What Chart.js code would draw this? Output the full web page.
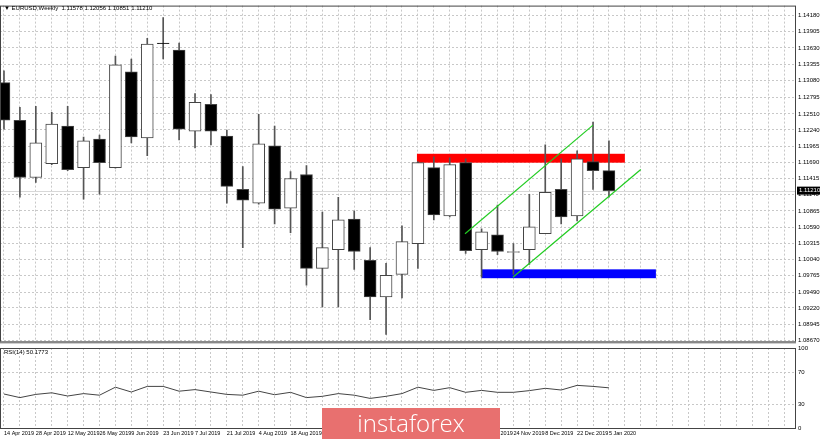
<!DOCTYPE html>
<html>
<head>
<meta charset="utf-8">
<script src="https://cdn.jsdelivr.net/npm/chart.js@4.4.0/dist/chart.umd.min.js"></script>
<style>
    html, body { margin: 0; padding: 0; background: #fff; }
    #wrap { position: relative; width: 820px; height: 439px; overflow: hidden; font-family: "Liberation Sans", Arial, sans-serif; }
    #mainBox { position: absolute; left: 0; top: 0; width: 820px; height: 347px; }
    #rsiBox { position: absolute; left: 0; top: 340px; width: 820px; height: 99px; }
    #logo { position: absolute; left: 322px; top: 408px; width: 178px; height: 31px; background: #e8706f;
            color: #fff; font: 300 24px "Open Sans", sans-serif; text-align: center; line-height: 30px; }
</style>
</head>
<body>
<div id="wrap">
    <div id="mainBox"><canvas id="mainChart"></canvas></div>
    <div id="rsiBox"><canvas id="rsiChart"></canvas></div>
    <div id="logo">instaforex</div>
</div>
<script>
/* Weekly EURUSD candles, 14 Apr 2019 .. 5 Jan 2020 */
const opens  = [1.13041, 1.12404, 1.11433, 1.11667, 1.12304, 1.11600, 1.12086, 1.11600, 1.13225, 1.12103,
                1.13711, 1.13594, 1.12220, 1.12672, 1.12136, 1.11232, 1.10997, 1.11969, 1.10914, 1.11483,
                1.09892, 1.10210, 1.10729, 1.10026, 1.09406, 1.09791, 1.10311, 1.11600, 1.10780, 1.11684,
                1.10210, 1.10461, 1.10160, 1.10210, 1.10478, 1.11232, 1.10780, 1.11701, 1.11550];
const highs  = [1.13242, 1.12622, 1.12639, 1.12538, 1.12639, 1.12120, 1.12153, 1.13493, 1.13443, 1.13795,
                1.14146, 1.13711, 1.12857, 1.12840, 1.12237, 1.11617, 1.12505, 1.12304, 1.11533, 1.11634,
                1.10847, 1.11098, 1.10863, 1.10244, 1.09976, 1.10612, 1.11701, 1.11785, 1.11768, 1.11751,
                1.10562, 1.10964, 1.10311, 1.11148, 1.11986, 1.11751, 1.11885, 1.12371, 1.12053];
const lows   = [1.12254, 1.11098, 1.11349, 1.11650, 1.11550, 1.11064, 1.11148, 1.11590, 1.12019, 1.11801,
                1.13443, 1.12069, 1.11935, 1.11986, 1.10997, 1.10244, 1.10980, 1.10646, 1.10495, 1.09607,
                1.09239, 1.09239, 1.09875, 1.09021, 1.08770, 1.09390, 1.09892, 1.10713, 1.10763, 1.10143,
                1.09741, 1.10126, 1.09791, 1.09959, 1.10478, 1.10646, 1.10696, 1.11232, 1.11098];
const closes = [1.12404, 1.11433, 1.12019, 1.12337, 1.11567, 1.12053, 1.11684, 1.13342, 1.12120, 1.13694,
                1.13703, 1.12254, 1.12706, 1.12220, 1.11282, 1.11048, 1.12002, 1.10897, 1.11416, 1.09892,
                1.10244, 1.10713, 1.10177, 1.09406, 1.09775, 1.10344, 1.11684, 1.10796, 1.11651, 1.10193,
                1.10512, 1.10177, 1.10177, 1.10595, 1.11182, 1.10763, 1.11751, 1.11550, 1.11210];
const rsiValues = [42.5, 38, 42, 44, 40, 43, 41, 51, 45, 52,
                   52, 46, 48, 45, 42, 41, 46, 41.6, 44.6, 38,
                   39.6, 43, 41, 37, 39.6, 43, 51, 47, 50.4, 44.6,
                   47, 44.6, 44.6, 46.7, 49.6, 47.5, 53.3, 52, 50.2];
const priceTicks = [1.14180, 1.13905, 1.13630, 1.13355, 1.13080, 1.12795, 1.12510, 1.12240, 1.11965, 1.11690,
                    1.11415, 1.11140, 1.10865, 1.10590, 1.10315, 1.10040, 1.09765, 1.09490, 1.09220, 1.08945, 1.08670];
const dateLabels = ["14 Apr 2019", "28 Apr 2019", "12 May 2019", "26 May 2019", "9 Jun 2019", "23 Jun 2019",
                    "7 Jul 2019", "21 Jul 2019", "4 Aug 2019", "18 Aug 2019", "1 Sep 2019", "15 Sep 2019",
                    "29 Sep 2019", "13 Oct 2019", "27 Oct 2019", "10 Nov 2019", "24 Nov 2019", "8 Dec 2019",
                    "22 Dec 2019", "5 Jan 2020"];
const rsiTicks = [100, 70, 30, 0];
const lastPrice = 1.11210;
/* analyst drawings, in bar index / price units */
const upperChannel = [[28.96, 1.10478], [37.0, 1.12321]];
const lowerChannel = [[31.97, 1.09741], [40.0, 1.11567]];
const resistanceZone = [25.94, 39.0, 1.11835, 1.11684];
const supportZone = [30.0, 40.95, 1.09875, 1.09725];

const FONT = { family: "Liberation Sans, Arial, sans-serif", size: 6 };
const GRID = "#c8c8c8";
const idx = opens.map((_, i) => i);
const gridIdx = Array.from({ length: 50 }, (_, i) => i);

const frame = {
    id: "frame",
    beforeDatasetsDraw(chart) {
        const { ctx, chartArea: a, scales } = chart;
        ctx.save();
        if (chart.canvas.id === "mainChart") {
            const x = scales.x, y = scales.y;
            const box = (z, color) => {
                ctx.fillStyle = color;
                const x0 = x.getPixelForValue(z[0]), x1 = x.getPixelForValue(z[1]);
                const y0 = y.getPixelForValue(z[2]), y1 = y.getPixelForValue(z[3]);
                ctx.fillRect(x0, y0, x1 - x0, y1 - y0);
            };
            box(resistanceZone, "#ff0000");
            box(supportZone, "#0000ff");
            const ly = Math.round(y.getPixelForValue(lastPrice)) + 0.5;
            ctx.strokeStyle = "#d8d8d8";
            ctx.lineWidth = 1;
            ctx.beginPath(); ctx.moveTo(a.left, ly); ctx.lineTo(a.right, ly); ctx.stroke();
        }
        ctx.restore();
    },
    afterDraw(chart) {
        const { ctx, chartArea: a, scales } = chart;
        ctx.save();
        ctx.strokeStyle = "#444";
        ctx.lineWidth = 1;
        ctx.strokeRect(a.left + 0.5, a.top + 0.5, a.right - a.left - 1, a.bottom - a.top);
        ctx.font = "6px Liberation Sans, Arial, sans-serif";
        ctx.textBaseline = "middle";
        if (chart.canvas.id === "mainChart") {
            ctx.fillStyle = "#000";
            ctx.fillText("\u25BC EURUSD,Weekly  1.11578 1.12056 1.10851 1.11210", 4, 8);
            const ly = scales.y.getPixelForValue(lastPrice);
            ctx.fillStyle = "#000";
            ctx.fillRect(a.right + 1, ly - 4, 23, 8);
            ctx.fillStyle = "#fff";
            ctx.fillText(lastPrice.toFixed(5), a.right + 3, ly);
            ctx.fillStyle = "#888";
            ctx.fillRect(a.left, a.bottom, a.right - a.left, 2);
        } else {
            ctx.fillStyle = "#000";
            ctx.fillText("RSI(14) 50.1773", 4, a.top + 4);
        }
        ctx.restore();
    },
};

function axisX(showLabels) {
    return {
        type: "linear", min: -0.25, max: 49.75, offset: false,
        afterBuildTicks: s => { s.ticks = gridIdx.map(v => ({ value: v })); },
        afterFit: s => { s.height = showLabels ? 11 : 0; },
        grid: { color: GRID, drawTicks: false, offset: false },
        border: { display: false, dash: [2, 2] },
        ticks: {
            display: showLabels, font: { family: FONT.family, size: 5.5 }, color: "#000", padding: 2,
            maxRotation: 0, autoSkip: false, align: "start",
            callback: v => (v % 2 === 0 && v / 2 < dateLabels.length) ? dateLabels[v / 2] : "",
        },
    };
}

new Chart(document.getElementById("mainChart"), {
    type: "bar",
    data: {
        datasets: [
            {
                data: idx.map(i => ({ x: i, y: [lows[i], highs[i]] })),
                backgroundColor: "#555", barThickness: 1, grouped: false, order: 3,
            },
            {
                data: idx.map(i => ({ x: i, y: [opens[i], closes[i]] })),
                backgroundColor: idx.map(i => closes[i] >= opens[i] ? "#fff" : "#000"),
                borderColor: "#444", borderWidth: 1, borderSkipped: false,
                barThickness: 12, grouped: false, order: 2,
            },
            {
                type: "line", data: upperChannel.map(p => ({ x: p[0], y: p[1] })),
                borderColor: "#22cc22", borderWidth: 1.2, pointRadius: 0, order: 1,
            },
            {
                type: "line", data: lowerChannel.map(p => ({ x: p[0], y: p[1] })),
                borderColor: "#22cc22", borderWidth: 1.2, pointRadius: 0, order: 1,
            },
        ],
    },
    options: {
        responsive: true, maintainAspectRatio: false, animation: false,
        layout: { padding: { top: 5, right: 0, bottom: 2, left: 0 } },
        plugins: { legend: { display: false }, tooltip: { enabled: false } },
        scales: {
            x: axisX(false),
            y: {
                position: "right", min: 1.08653, max: 1.14348,
                afterBuildTicks: s => { s.ticks = priceTicks.map(v => ({ value: v })); },
                afterFit: s => { s.width = 24; },
                grid: { color: GRID, drawTicks: false },
                border: { display: false, dash: [2, 2] },
                ticks: { font: FONT, color: "#000", padding: 2, callback: v => v.toFixed(5) },
            },
        },
    },
    plugins: [frame],
});

new Chart(document.getElementById("rsiChart"), {
    type: "line",
    data: {
        datasets: [{
            data: idx.map(i => ({ x: i, y: rsiValues[i] })),
            borderColor: "#444", borderWidth: 1, pointRadius: 0, tension: 0,
        }],
    },
    options: {
        responsive: true, maintainAspectRatio: false, animation: false,
        layout: { padding: { top: 8, right: 0, bottom: 0, left: 0 } },
        plugins: { legend: { display: false }, tooltip: { enabled: false } },
        scales: {
            x: axisX(true),
            y: {
                position: "right", min: 0, max: 100,
                afterBuildTicks: s => { s.ticks = rsiTicks.map(v => ({ value: v })); },
                afterFit: s => { s.width = 24; },
                grid: { color: c => (c.tick.value === 70 || c.tick.value === 30) ? GRID : "transparent", drawTicks: false },
                border: { display: false, dash: [2, 2] },
                ticks: { font: FONT, color: "#000", padding: 2 },
            },
        },
    },
    plugins: [frame],
});
</script>
</body>
</html>
